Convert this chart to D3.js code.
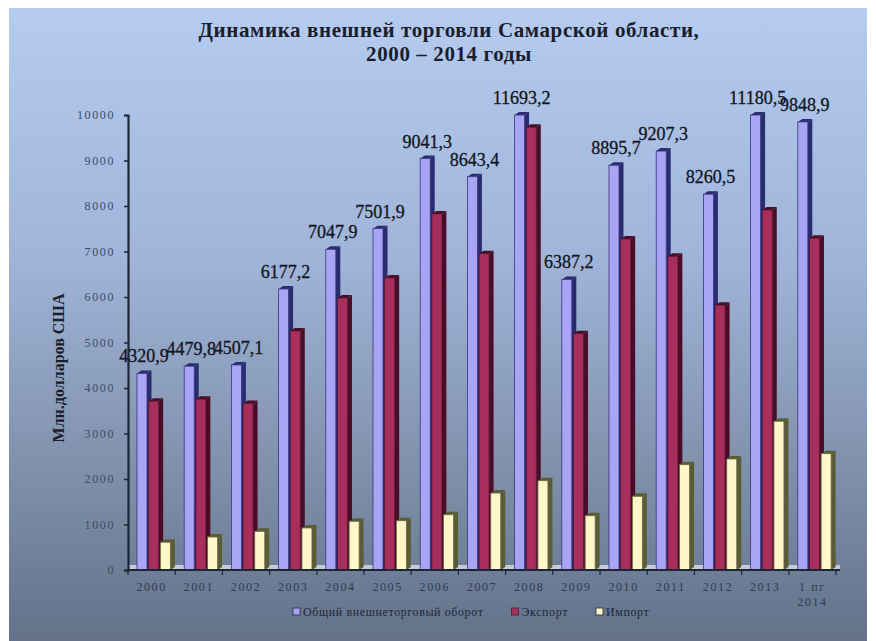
<!DOCTYPE html>
<html>
<head>
<meta charset="utf-8">
<script src="https://cdn.jsdelivr.net/npm/d3@7/dist/d3.min.js"></script>
<style>
  html, body { margin: 0; padding: 0; background: #ffffff; }
  svg { display: block; }
</style>
</head>
<body>
<svg id="chart" width="876" height="641"></svg>
<script>
// ---------- DATA ----------
const categories = ["2000","2001","2002","2003","2004","2005","2006","2007","2008","2009","2010","2011","2012","2013","1 пг\n2014"];
const totalValues  = [4320.9, 4479.8, 4507.1, 6177.2, 7047.9, 7501.9, 9041.3, 8643.4, 11693.2, 6387.2, 8895.7, 9207.3, 8260.5, 11180.5, 9848.9];
const exportValues = [3711, 3755, 3657, 5254, 5978, 6419, 7826, 6951, 9730, 5194, 7276, 6893, 5821, 7912, 7293];
const importValues = [610, 725, 850, 923, 1070, 1083, 1215, 1692, 1963, 1193, 1620, 2314, 2440, 3268, 2556];
const seriesNames  = ["Общий внешнеторговый оборот", "Экспорт", "Импорт"];
const yTicks = [0, 1000, 2000, 3000, 4000, 5000, 6000, 7000, 8000, 9000, 10000];
const titleLines = ["Динамика внешней торговли Самарской области,", "2000 – 2014 годы"];
const yAxisTitle = "Млн.долларов США";

// ---------- STYLE ----------
const seriesStyle = [
  { front: "#aaa4f4", side: "#2a2c70", edge: "#34367e" },
  { front: "#a82f5c", side: "#480e28", edge: "#561230" },
  { front: "#fff6c9", side: "#5a5c36", edge: "#686842" }
];
const serif = "'Liberation Serif', 'Times New Roman', serif";

const svg = d3.select("#chart");
const plot = { left: 128, right: 836, top: 115, bottom: 570 };

// background panel
const defs = svg.append("defs");
const grad = defs.append("linearGradient").attr("id", "bg").attr("x1", 0).attr("y1", 0).attr("x2", 0).attr("y2", 1);
grad.append("stop").attr("offset", "0%").attr("stop-color", "#b5cbf0");
grad.append("stop").attr("offset", "40%").attr("stop-color", "#9fb4d8");
grad.append("stop").attr("offset", "75%").attr("stop-color", "#7d8ea8");
grad.append("stop").attr("offset", "100%").attr("stop-color", "#637289");
svg.append("rect").attr("x", 9).attr("y", 8).attr("width", 858).attr("height", 633).attr("fill", "url(#bg)");

defs.append("clipPath").attr("id", "plotClip")
  .append("rect").attr("x", plot.left).attr("y", plot.top - 4).attr("width", plot.right - plot.left + 10).attr("height", plot.bottom - plot.top + 8);

// ---------- SCALES ----------
const x0 = d3.scaleBand().domain(categories).range([plot.left, plot.right]).padding(0);
const seriesKeys = [0, 1, 2];
const x1 = d3.scaleBand().domain(seriesKeys).range([9, 44]).padding(0);
const y = d3.scaleLinear().domain([0, 10000]).range([plot.bottom, plot.top]);

const frontW = 10, sideW = 4.5, capH = 3;

// ---------- TITLE ----------
svg.append("g").selectAll("text").data(titleLines).join("text")
  .attr("x", 449).attr("y", (d, i) => 37 + i * 24)
  .attr("text-anchor", "middle")
  .attr("font-family", serif)
  .attr("font-weight", "bold").attr("font-size", 21).attr("letter-spacing", 0.6)
  .attr("fill", "#1b1e2a")
  .text(d => d);

// ---------- FLOOR ----------
svg.append("rect").attr("x", plot.left).attr("y", plot.bottom - 5).attr("width", plot.right - plot.left + 4).attr("height", 5)
  .attr("fill", "#d9dee8").attr("opacity", 0.8);

// ---------- BARS ----------
const rows = categories.map((c, i) => ({ cat: c, vals: [totalValues[i], exportValues[i], importValues[i]] }));
const barsG = svg.append("g").attr("clip-path", "url(#plotClip)");
const groups = barsG.selectAll("g.grp").data(rows).join("g").attr("class", "grp")
  .attr("transform", d => `translate(${x0(d.cat)},0)`);

seriesKeys.forEach(k => {
  const st = seriesStyle[k];
  const bx = x1(k);
  groups.append("path")
    .attr("d", d => {
      const yt = y(Math.min(d.vals[k], 10000));
      return `M${bx + frontW},${yt} L${bx + frontW + sideW},${yt - capH} L${bx + frontW + sideW},${plot.bottom - capH} L${bx + frontW},${plot.bottom} Z`;
    })
    .attr("fill", st.side);
  groups.append("path")
    .attr("d", d => {
      const yt = y(Math.min(d.vals[k], 10000));
      return `M${bx},${yt} L${bx + sideW},${yt - capH} L${bx + frontW + sideW},${yt - capH} L${bx + frontW},${yt} Z`;
    })
    .attr("fill", st.side);
  groups.append("rect")
    .attr("x", bx)
    .attr("y", d => y(Math.min(d.vals[k], 10000)))
    .attr("width", frontW)
    .attr("height", d => plot.bottom - y(Math.min(d.vals[k], 10000)))
    .attr("fill", st.front)
    .attr("stroke", st.edge).attr("stroke-width", 0.8);
});

// ---------- AXES ----------
const yAxis = d3.axisLeft(y).tickValues(yTicks).tickSize(4).tickPadding(9).tickFormat(d3.format("d"));
const yg = svg.append("g").attr("transform", `translate(${plot.left},0)`).call(yAxis);
yg.select(".domain").attr("stroke", "#1c2636").attr("stroke-width", 2.2);
yg.selectAll(".tick line").attr("stroke", "#1c2636").attr("stroke-width", 1.5);
yg.selectAll(".tick text")
  .attr("font-family", serif)
  .attr("font-size", 12).attr("letter-spacing", 1.6)
  .attr("fill", "#3e4a66");

svg.append("line").attr("x1", plot.left).attr("x2", plot.right + 4)
  .attr("y1", plot.bottom).attr("y2", plot.bottom)
  .attr("stroke", "#1c2636").attr("stroke-width", 2);
svg.append("g").selectAll("line").data(categories.concat(["__end"])).join("line")
  .attr("x1", (d, i) => plot.left + i * x0.step()).attr("x2", (d, i) => plot.left + i * x0.step())
  .attr("y1", plot.bottom).attr("y2", plot.bottom + 5)
  .attr("stroke", "#1c2636").attr("stroke-width", 1.2);

const xAxis = d3.axisBottom(x0).tickSize(0).tickPadding(0).tickFormat("");
const xg = svg.append("g").attr("transform", `translate(0,${plot.bottom})`).call(xAxis);
xg.select(".domain").remove();
xg.selectAll(".tick").each(function (d) {
  const parts = d.split("\n");
  d3.select(this).selectAll("text.lbl").data(parts).join("text").attr("class", "lbl")
    .attr("x", 0).attr("y", (p, i) => 21 + i * 15)
    .attr("text-anchor", "middle")
    .attr("font-family", serif)
    .attr("font-size", 12).attr("letter-spacing", 1.6)
    .attr("fill", "#2e3a56")
    .text(p => p);
});

svg.append("text")
  .attr("transform", "translate(64,368) rotate(-90)")
  .attr("text-anchor", "middle")
  .attr("font-family", serif)
  .attr("font-weight", "bold").attr("font-size", 16)
  .attr("fill", "#1b1e2a")
  .text(yAxisTitle);

// ---------- DATA LABELS ----------
const fmt = v => d3.format(".1f")(v).replace(".", ",");
svg.append("g").selectAll("text").data(rows).join("text")
  .attr("x", d => x0(d.cat) + x1(0) + 7)
  .attr("y", d => y(Math.min(d.vals[0], 10000)) - 11)
  .attr("text-anchor", "middle")
  .attr("font-family", serif)
  .attr("font-size", 18)
  .attr("fill", "#121522")
  .attr("stroke", "#121522").attr("stroke-width", 0.3)
  .text(d => fmt(d.vals[0]));

// ---------- LEGEND ----------
const legend = svg.append("g").attr("transform", "translate(293,612)");
let lx = 0;
seriesNames.forEach((name, i) => {
  const g = legend.append("g").attr("transform", `translate(${lx},0)`);
  g.append("rect").attr("x", 0).attr("y", -4).attr("width", 7).attr("height", 7)
    .attr("fill", seriesStyle[i].front).attr("stroke", "#2a2a3a").attr("stroke-width", 0.8);
  const t = g.append("text").attr("x", 10).attr("y", 4)
    .attr("font-family", serif)
    .attr("font-size", 12).attr("letter-spacing", 0.6)
    .attr("fill", "#202838")
    .text(name);
  lx += 10 + t.node().getComputedTextLength() + 28;
});
</script>
</body>
</html>
